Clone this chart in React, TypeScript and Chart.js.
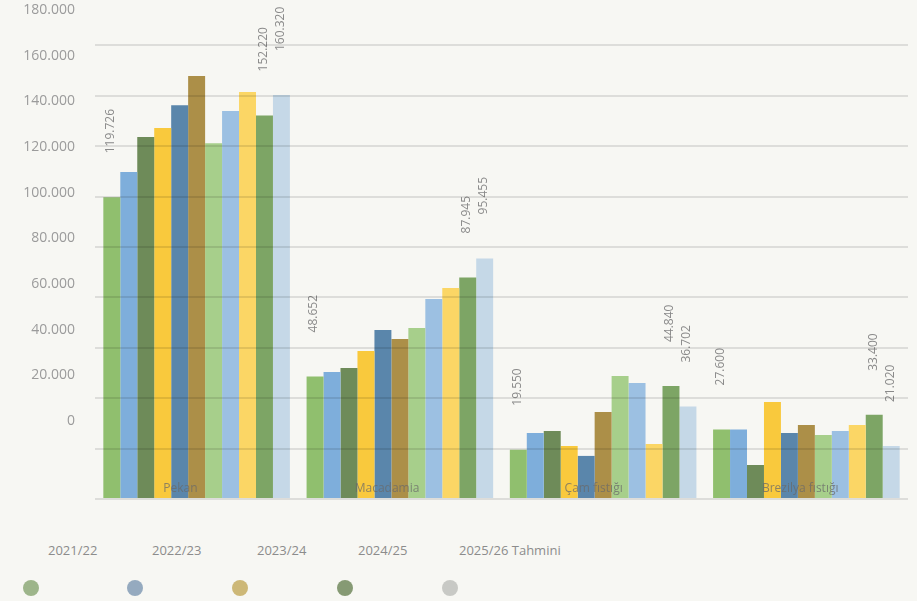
import React, { useEffect, useRef } from "react";
import { Chart, registerables } from "chart.js";

Chart.register(...registerables);

// ---- data ----
const categories = ["Pekan", "Macadamia", "Çam fıstığı", "Brezilya fıstığı"];

const series01 = [119726, 48652, 19550, 27600];
const series02 = [129800, 50400, 26200, 27600];
const series03 = [143700, 52000, 27000, 13500];
const series04 = [147200, 58700, 21000, 38500];
const series05 = [156300, 67100, 17100, 26200];
const series06 = [167900, 63500, 34500, 29400];
const series07 = [141200, 67900, 48800, 25400];
const series08 = [154000, 79400, 46000, 27000];
const series09 = [161500, 83700, 21800, 29400];
const series10 = [152220, 87945, 44840, 33400];
const series11 = [160320, 95455, 36702, 21020];

const seriesValues = [
  series01, series02, series03, series04, series05, series06,
  series07, series08, series09, series10, series11,
];
const seriesNames = [
  "Seri 1", "Seri 2", "Seri 3", "Seri 4", "Seri 5", "Seri 6",
  "Seri 7", "Seri 8", "Seri 9", "Seri 10", "Seri 11",
];
const seriesColors = [
  "#90bf6e", "#7eaedb", "#6e8b59", "#f9c93d", "#5a86ab", "#ac8f48",
  "#a7cf8b", "#9cc0e2", "#fbd665", "#7da565", "#c5d8e7",
];
// series whose values are written above the bars
const labeledSeries = [0, 9, 10];

const yTickValues = [0, 20000, 40000, 60000, 80000, 100000, 120000, 140000, 160000, 180000];
const xLabelPositions = [0, 1, 2, 3];

const legendLabels = ["2021/22", "2022/23", "2023/24", "2024/25", "2025/26 Tahmini"];
const legendColors = ["#9db58a", "#95aabf", "#cdb877", "#869a74", "#c8c9c5"];

// ---- helpers ----
const fmt = (n: number) =>
  Math.round(n).toString().replace(/\B(?=(\d{3})+(?!\d))/g, ".");

const FONT = "'Open Sans', 'Noto Sans', sans-serif";

const zeroPadding = (axis: any) => {
  axis.paddingTop = 0;
  axis.paddingBottom = 0;
  axis.paddingLeft = 0;
  axis.paddingRight = 0;
};

const dataLabelPlugin = {
  id: "rotatedDataLabels",
  afterDatasetsDraw(chart: any) {
    const ctx = chart.ctx;
    ctx.save();
    ctx.font = `12px ${FONT}`;
    ctx.fillStyle = "#8a8a8a";
    ctx.textAlign = "left";
    ctx.textBaseline = "middle";
    labeledSeries.forEach((di) => {
      const meta = chart.getDatasetMeta(di);
      meta.data.forEach((bar: any, i: number) => {
        const v = chart.data.datasets[di].data[i] as number;
        ctx.save();
        ctx.translate(bar.x - 1, bar.y - 44);
        ctx.rotate(-Math.PI / 2);
        ctx.fillText(fmt(v), 0, 0);
        ctx.restore();
      });
    });
    ctx.restore();
  },
};

export default function App() {
  const canvasRef = useRef<HTMLCanvasElement | null>(null);

  useEffect(() => {
    if (!canvasRef.current) return;
    const chart = new Chart(canvasRef.current, {
      type: "bar",
      data: {
        labels: categories,
        datasets: seriesValues.map((vals, i) => ({
          label: seriesNames[i],
          data: vals,
          backgroundColor: seriesColors[i],
          borderWidth: 0,
          xAxisID: "x",
          yAxisID: "y",
        })),
      },
      options: {
        animation: false,
        responsive: true,
        maintainAspectRatio: false,
        layout: { padding: { top: 4, right: 9, bottom: 11, left: 0 } },
        datasets: { bar: { categoryPercentage: 0.918, barPercentage: 1 } },
        plugins: {
          legend: { display: false },
          tooltip: { enabled: false },
        },
        scales: {
          x: {
            type: "category",
            display: false,
          },
          xLab: {
            type: "linear",
            position: "bottom",
            offset: false,
            min: -0.4139,
            max: 3.5218,
            grid: { display: false, drawTicks: false, offset: false },
            border: { display: false },
            afterBuildTicks: (axis: any) => {
              axis.ticks = xLabelPositions.map((v) => ({ value: v }));
            },
            afterFit: (axis: any) => {
              axis.height = 0;
              zeroPadding(axis);
            },
            ticks: {
              z: 2,
              mirror: true,
              padding: 3,
              maxRotation: 0,
              autoSkip: false,
              color: "rgba(105,105,105,0.75)",
              font: { family: FONT, size: 12 },
              callback: (v: any) => categories[Number(v)] ?? "",
            },
          },
          yLab: {
            type: "linear",
            position: "left",
            min: -34161,
            max: 182630,
            grid: { display: false, drawTicks: false },
            border: { display: false },
            afterBuildTicks: (axis: any) => {
              axis.ticks = yTickValues.map((v) => ({ value: v }));
            },
            afterFit: (axis: any) => {
              axis.width = 95;
              zeroPadding(axis);
            },
            ticks: {
              padding: 20,
              color: "#9b9b9b",
              font: { family: FONT, size: 14 },
              callback: (v: any) => fmt(Number(v)),
            },
          },
          y: {
            type: "linear",
            position: "left",
            min: 0,
            max: 196430,
            border: { display: false },
            grid: {
              z: 1,
              color: "rgba(0,0,0,0.1)",
              lineWidth: 2,
              drawTicks: false,
            },
            afterBuildTicks: (axis: any) => {
              axis.ticks = yTickValues.map((v) => ({ value: v }));
            },
            afterFit: (axis: any) => {
              axis.width = 0;
              zeroPadding(axis);
            },
            ticks: { display: false },
          },
        },
      } as any,
      plugins: [dataLabelPlugin],
    });
    return () => chart.destroy();
  }, []);

  return (
    <div
      style={{
        position: "fixed",
        left: 0,
        top: 0,
        width: 917,
        height: 601,
        background: "#f7f7f3",
        fontFamily: FONT,
        overflow: "hidden",
      }}
    >
      <div style={{ position: "absolute", left: 0, top: 0, width: 917, height: 510 }}>
        <canvas ref={canvasRef} />
      </div>
      {legendLabels.map((lab, i) => (
        <div
          key={"t" + i}
          style={{
            position: "absolute",
            left: [48, 152, 257, 358, 459][i],
            top: 540,
            height: 20,
            lineHeight: "20px",
            fontSize: 13,
            color: "#8c8c8c",
            whiteSpace: "nowrap",
          }}
        >
          {lab}
        </div>
      ))}
      {legendColors.map((c, i) => (
        <div
          key={"d" + i}
          style={{
            position: "absolute",
            left: [31, 135, 240, 345, 450][i] - 8,
            top: 588 - 8,
            width: 16,
            height: 16,
            borderRadius: "50%",
            background: c,
          }}
        />
      ))}
    </div>
  );
}
